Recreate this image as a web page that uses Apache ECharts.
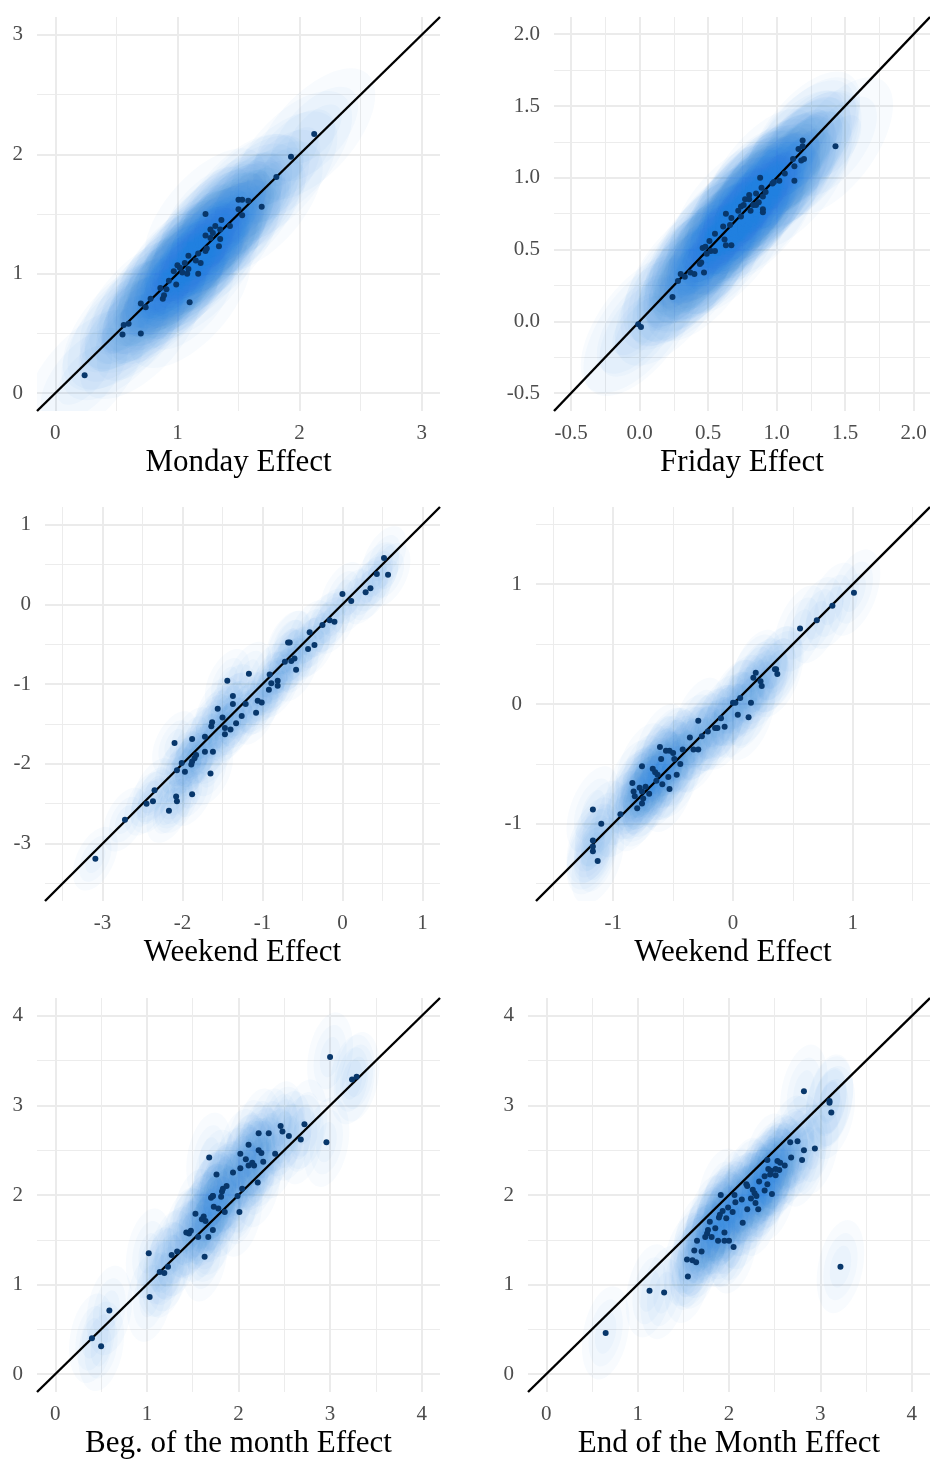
<!DOCTYPE html>
<html>
<head>
<meta charset="utf-8">
<script src="https://cdn.jsdelivr.net/npm/echarts@6.0.0/dist/echarts.min.js"></script>
<style>
  html, body { margin: 0; padding: 0; background: #fff; }
  #chart { width: 930px; height: 1459px; }
</style>
</head>
<body>
<div id="chart"></div>
<script>
// panel titles
var names = ['Monday Effect', 'Friday Effect', 'Weekend Effect', 'Weekend Effect',
  'Beg. of the month Effect', 'End of the Month Effect']

// axis range of each panel (same on x and y) and major tick step
var limits = [[-0.15, 3.15], [-0.625, 2.12], [-3.72, 1.22], [-1.645, 1.645], [-0.2, 4.2], [-0.2, 4.2]]
var steps = [1, 0.5, 1, 1, 1, 1]
var decimals = [0, 1, 0, 0, 0, 0]

// points: [x, y]
var monday = [[0.24, 0.15], [0.55, 0.49], [0.56, 0.57], [0.60, 0.58], [0.70, 0.50], [0.70, 0.75],
  [0.74, 0.72], [0.78, 0.79], [0.86, 0.88], [0.88, 0.79], [0.89, 0.82], [0.91, 0.87], [0.93, 0.94],
  [0.99, 0.91], [0.97, 1.02], [1.00, 1.07], [1.02, 1.05], [1.04, 1.01], [1.06, 1.09], [1.08, 1.00],
  [1.09, 1.04], [1.09, 1.15], [1.10, 0.76], [1.15, 1.11], [1.17, 1.00], [1.17, 1.17], [1.19, 1.09],
  [1.23, 1.19], [1.24, 1.21], [1.23, 1.32], [1.23, 1.50], [1.27, 1.30], [1.27, 1.37], [1.29, 1.34],
  [1.31, 1.40], [1.34, 1.23], [1.35, 1.29], [1.35, 1.37], [1.36, 1.45], [1.43, 1.40], [1.50, 1.62],
  [1.53, 1.62], [1.50, 1.54], [1.53, 1.49], [1.58, 1.61], [1.69, 1.56], [1.81, 1.81], [1.93, 1.98],
  [2.12, 2.17]]
var friday = [[-0.01, -0.02], [0.01, -0.04], [0.24, 0.17], [0.28, 0.28], [0.30, 0.33], [0.33, 0.31],
  [0.37, 0.34], [0.40, 0.33], [0.44, 0.40], [0.45, 0.41], [0.47, 0.34], [0.46, 0.51], [0.48, 0.52],
  [0.49, 0.47], [0.51, 0.56], [0.52, 0.49], [0.55, 0.49], [0.55, 0.61], [0.61, 0.66], [0.63, 0.75],
  [0.62, 0.57], [0.63, 0.53], [0.67, 0.53], [0.66, 0.67], [0.67, 0.72], [0.72, 0.77], [0.74, 0.73],
  [0.74, 0.80], [0.76, 0.81], [0.77, 0.85], [0.80, 0.88], [0.80, 0.85], [0.81, 0.77], [0.83, 0.81],
  [0.85, 0.89], [0.85, 0.81], [0.87, 0.83], [0.88, 1.00], [0.89, 0.93], [0.90, 0.78], [0.90, 0.76],
  [0.92, 0.90], [0.90, 0.87], [0.97, 0.96], [0.98, 0.97], [1.02, 0.98], [1.06, 1.03], [1.13, 0.98],
  [1.13, 1.08], [1.12, 1.13], [1.16, 1.20], [1.19, 1.22], [1.19, 1.26], [1.18, 1.12], [1.20, 1.13],
  [1.43, 1.22]]
var weekendA = [[-3.09, -3.19], [-2.72, -2.70], [-2.45, -2.50], [-2.37, -2.47], [-2.35, -2.33],
  [-2.17, -2.59], [-2.08, -2.41], [-2.07, -2.47], [-1.88, -2.38], [-2.10, -1.74], [-2.01, -1.99],
  [-1.97, -2.10], [-2.07, -2.08], [-1.88, -1.69], [-1.89, -2.01], [-1.88, -1.97], [-1.85, -1.93],
  [-1.83, -1.89], [-1.72, -1.85], [-1.72, -1.66], [-1.65, -2.12], [-1.62, -1.85], [-1.64, -1.53],
  [-1.63, -1.48], [-1.56, -1.31], [-1.50, -1.42], [-1.47, -1.55], [-1.47, -1.63], [-1.44, -0.96],
  [-1.40, -1.57], [-1.37, -1.15], [-1.37, -1.25], [-1.33, -1.49], [-1.26, -1.40], [-1.21, -1.25],
  [-1.17, -0.87], [-1.08, -1.36], [-1.06, -1.21], [-1.01, -1.23], [-0.92, -1.07], [-0.91, -0.88],
  [-0.89, -0.99], [-0.81, -0.96], [-0.81, -1.02], [-0.72, -0.72], [-0.68, -0.48], [-0.66, -0.48],
  [-0.64, -0.71], [-0.60, -0.68], [-0.58, -0.82], [-0.43, -0.56], [-0.41, -0.35], [-0.35, -0.51],
  [-0.25, -0.26], [-0.16, -0.20], [-0.10, -0.22], [0.00, 0.13], [0.11, 0.04], [0.29, 0.15],
  [0.35, 0.20], [0.43, 0.38], [0.52, 0.58], [0.57, 0.37]]
var weekendB = [[-1.17, -0.88], [-1.10, -1.00], [-1.17, -1.14], [-1.17, -1.19], [-1.17, -1.23],
  [-1.13, -1.31], [-0.94, -0.92], [-0.84, -0.66], [-0.83, -0.73], [-0.82, -0.77], [-0.80, -0.87],
  [-0.78, -0.70], [-0.76, -0.73], [-0.76, -0.52], [-0.76, -0.83], [-0.75, -0.79], [-0.73, -0.69],
  [-0.70, -0.75], [-0.67, -0.54], [-0.65, -0.57], [-0.64, -0.64], [-0.63, -0.59], [-0.61, -0.36],
  [-0.60, -0.46], [-0.59, -0.67], [-0.56, -0.39], [-0.53, -0.39], [-0.54, -0.61], [-0.53, -0.71],
  [-0.50, -0.41], [-0.49, -0.46], [-0.47, -0.59], [-0.44, -0.50], [-0.42, -0.38], [-0.36, -0.28],
  [-0.33, -0.38], [-0.29, -0.38], [-0.29, -0.14], [-0.26, -0.27], [-0.21, -0.23], [-0.15, -0.20],
  [-0.13, -0.20], [-0.07, -0.19], [-0.10, -0.12], [0.00, 0.01], [0.02, 0.01], [0.04, -0.09],
  [0.06, 0.05], [0.13, -0.11], [0.15, 0.01], [0.17, 0.22], [0.19, 0.26], [0.23, 0.19], [0.24, 0.15],
  [0.35, 0.29], [0.36, 0.29], [0.37, 0.25], [0.56, 0.63], [0.70, 0.70], [0.83, 0.82], [1.01, 0.93]]
var begMonth = [[0.40, 0.40], [0.50, 0.31], [0.59, 0.71], [1.02, 1.35], [1.03, 0.86], [1.14, 1.14],
  [1.19, 1.13], [1.23, 1.20], [1.27, 1.33], [1.33, 1.37], [1.43, 1.58], [1.46, 1.57], [1.48, 1.60],
  [1.53, 1.79], [1.56, 1.53], [1.60, 1.73], [1.62, 1.76], [1.64, 1.71], [1.63, 1.31], [1.67, 1.53],
  [1.68, 2.42], [1.70, 1.97], [1.72, 1.99], [1.72, 1.99], [1.72, 1.61], [1.73, 1.87], [1.78, 1.85],
  [1.76, 2.23], [1.81, 1.98], [1.82, 2.04], [1.83, 2.07], [1.87, 2.10], [1.85, 1.81], [1.94, 2.25],
  [1.99, 1.99], [2.01, 1.81], [2.02, 2.46], [2.02, 2.30], [2.04, 2.07], [2.08, 2.40], [2.11, 2.56],
  [2.11, 2.33], [2.15, 2.36], [2.17, 2.33], [2.21, 2.14], [2.22, 2.69], [2.22, 2.50], [2.25, 2.47],
  [2.27, 2.37], [2.33, 2.69], [2.40, 2.46], [2.46, 2.77], [2.48, 2.71], [2.55, 2.66], [2.68, 2.62],
  [2.72, 2.79], [2.96, 2.59], [3.00, 3.54], [3.24, 3.29], [3.29, 3.32]]
var endMonth = [[0.65, 0.46], [1.13, 0.93], [1.29, 0.91], [1.54, 1.28], [1.55, 1.09], [1.60, 1.27],
  [1.64, 1.25], [1.62, 1.38], [1.65, 1.49], [1.70, 1.37], [1.74, 1.53], [1.76, 1.57], [1.77, 1.61],
  [1.79, 1.70], [1.81, 1.53], [1.85, 1.63], [1.88, 1.49], [1.89, 1.75], [1.90, 1.78], [1.91, 2.00],
  [1.93, 1.82], [1.95, 1.58], [1.95, 1.49], [1.97, 1.74], [1.99, 1.86], [2.00, 1.49], [2.04, 1.81],
  [2.05, 1.42], [2.06, 2.00], [2.07, 1.92], [2.14, 1.95], [2.15, 1.69], [2.19, 2.12], [2.20, 2.10],
  [2.20, 1.84], [2.24, 1.96], [2.26, 2.06], [2.28, 2.02], [2.29, 1.91], [2.30, 1.99], [2.32, 1.84],
  [2.33, 2.15], [2.39, 2.05], [2.39, 2.21], [2.42, 2.12], [2.42, 2.39], [2.43, 2.29], [2.45, 2.23],
  [2.46, 2.27], [2.47, 2.01], [2.51, 2.29], [2.51, 2.22], [2.53, 2.38], [2.56, 2.36], [2.55, 2.28],
  [2.61, 2.33], [2.67, 2.59], [2.68, 2.42], [2.75, 2.60], [2.80, 2.39], [2.82, 2.50], [2.82, 3.16],
  [2.94, 2.52], [3.10, 3.05], [3.10, 3.03], [3.12, 2.92], [3.22, 1.20]]

var panels = [monday, friday, weekendA, weekendB, begMonth, endMonth]

// spread of the uncertainty ellipse drawn round each point: sx, sy, correlation
var spreads = [[0.5, 0.55, 0.6], [0.42, 0.48, 0.6], [0.28, 0.4, 0.45],
  [0.22, 0.36, 0.45], [0.25, 0.5, 0.25], [0.26, 0.52, 0.3]]
var levels = [1, 0.72, 0.45]

var grids = [
  { left: 37, top: 17, width: 403, height: 394 },
  { left: 554, top: 17, width: 376, height: 394 },
  { left: 45, top: 507, width: 395, height: 394 },
  { left: 536, top: 507, width: 394, height: 394 },
  { left: 37, top: 998, width: 403, height: 394 },
  { left: 528, top: 998, width: 402, height: 394 }
]

var FONT = 'Liberation Serif'

function makeAxis (i, isX) {
  var lim = limits[i]
  var ax = {
    type: 'value',
    gridIndex: i,
    min: lim[0],
    max: lim[1],
    minInterval: steps[i],
    maxInterval: steps[i],
    axisLine: { show: false },
    axisTick: { show: false },
    minorTick: { show: false, splitNumber: 2 },
    splitLine: { show: true, showMinLine: false, showMaxLine: false, lineStyle: { color: '#ebebeb', width: 2 } },
    minorSplitLine: { show: true, lineStyle: { color: '#ececec', width: 1 } },
    axisLabel: {
      showMinLabel: false,
      showMaxLabel: false,
      color: '#4d4d4d',
      fontFamily: FONT,
      fontSize: 21,
      margin: isX ? 12 : 14,
      formatter: function (v) { return v.toFixed(decimals[i]) }
    }
  }
  if (isX) {
    ax.name = names[i]
    ax.nameLocation = 'middle'
    ax.nameGap = 36
    ax.nameTextStyle = { fontFamily: FONT, fontSize: 31, color: '#000' }
  }
  return ax
}

function ellipseSeries (i) {
  var sp = spreads[i]
  var rt = Math.sqrt(1 - sp[2] * sp[2])
  return {
    type: 'custom',
    xAxisIndex: i,
    yAxisIndex: i,
    clip: true,
    silent: true,
    z: 1,
    data: panels[i],
    renderItem: function (params, api) {
      var cx = api.value(0)
      var cy = api.value(1)
      var kids = levels.map(function (k) {
        var pts = []
        for (var j = 0; j < 60; j++) {
          var t = j / 60 * Math.PI * 2
          var dx = sp[0] * k * Math.cos(t)
          var dy = sp[1] * k * (sp[2] * Math.cos(t) + rt * Math.sin(t))
          pts.push(api.coord([cx + dx, cy + dy]))
        }
        return { type: 'polygon', shape: { points: pts }, style: { fill: 'rgba(30,136,229,0.03)' } }
      })
      return { type: 'group', children: kids }
    }
  }
}

var xAxes = []
var yAxes = []
var series = []
for (var i = 0; i < 6; i++) {
  xAxes.push(makeAxis(i, true))
  yAxes.push(makeAxis(i, false))
  series.push(ellipseSeries(i))
  series.push({
    type: 'line',
    xAxisIndex: i,
    yAxisIndex: i,
    data: [[limits[i][0], limits[i][0]], [limits[i][1], limits[i][1]]],
    showSymbol: false,
    silent: true,
    z: 3,
    lineStyle: { color: '#000', width: 2.4 }
  })
  series.push({
    type: 'scatter',
    xAxisIndex: i,
    yAxisIndex: i,
    data: panels[i],
    symbolSize: 6,
    z: 4,
    itemStyle: { color: '#08376b', opacity: 1 }
  })
}

var chart = echarts.init(document.getElementById('chart'))
chart.setOption({
  backgroundColor: '#fff',
  animation: false,
  grid: grids.map(function (g) { return Object.assign({ outerBoundsMode: 'none', containLabel: false }, g) }),
  xAxis: xAxes,
  yAxis: yAxes,
  series: series
})
</script>
</body>
</html>
